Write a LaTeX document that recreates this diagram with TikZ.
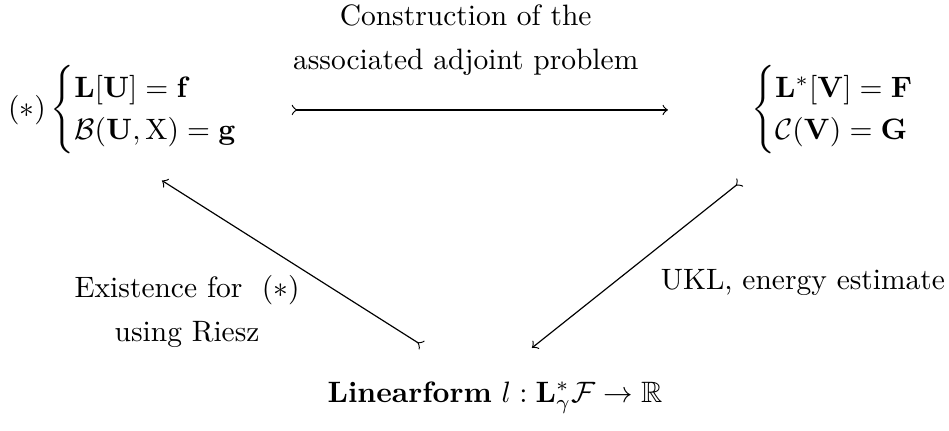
\documentclass[tikz,border=0pt]{standalone}
\usepackage{amsmath,amssymb}
\begin{document}
\begin{tikzpicture}[tail/.style={>->}]
        \useasboundingbox (0,0) rectangle (11.31,-5.125);
        % Primal and adjoint problem
        \node (prob) at (1.65,-1.31) {$(*)\begin{cases}\mathbf{L}[\mathbf{U}]=\mathbf{f}\\ \mathcal{B}(\mathbf{U},\mathrm{X})=\mathbf{g}\end{cases}$};
        \node (adj) at (10.11,-1.31) {$\begin{cases}\mathbf{L}^*[\mathbf{V}]=\mathbf{F}\\ \mathcal{C}(\mathbf{V})=\mathbf{G}\end{cases}$};
        \node (lin) at (5.90,-4.74) {\textbf{Linearform} $l:\mathbf{L}^*_\gamma\mathcal{F}\to\mathbb{R}$};

        % Arrows
        \draw[tail, shorten <=0.15cm, shorten >=0.87cm] (prob.east) -- (adj.west);
        \draw[tail] ([shift={(-0.87,0.31)}]lin.north) -- ([shift={(0.28,-0.19)}]prob.south);
        \draw[tail] ([shift={(-1.29,-0.21)}]adj.south) -- ([shift={(0.44,0.28)}]lin.north);

        % Labels
        \node[align=center] (constr) at (5.55,-0.48) {Construction of the\\[3pt] associated adjoint problem};
        \node[align=center] (riesz) at (2.23,-3.71) {Existence for~ $(*)$\\[3pt] using Riesz};
        \node (ukl) at (9.57,-3.37) {UKL, energy estimate};
    \end{tikzpicture}
\end{document}
